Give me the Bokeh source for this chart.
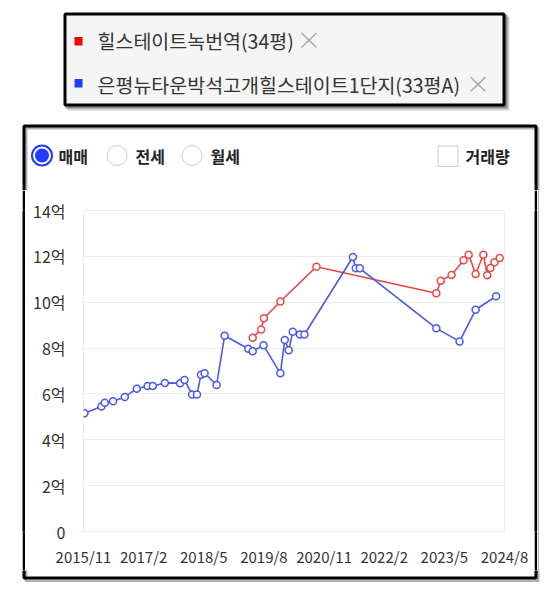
from bokeh.plotting import figure
from bokeh.models import Range1d, FixedTicker, Spacer
from bokeh.layouts import column, row
from bokeh.core.properties import value
from bokeh.embed import file_html
from bokeh.resources import INLINE

# ---------------- data ----------------
series_red_name = "힐스테이트녹번역(34평)"
series_blue_name = "은평뉴타운박석고개힐스테이트1단지(33평A)"

red_dates = ["2019-05-07", "2019-07-10", "2019-08-01", "2019-12-04", "2020-09-04",
             "2023-03-01", "2023-04-04", "2023-06-25", "2023-09-25", "2023-11-03",
             "2023-12-25", "2024-02-23", "2024-03-22", "2024-04-16", "2024-05-16",
             "2024-06-25"]
red_values = [8.45, 8.81, 9.30, 10.03, 11.55,
              10.39, 10.94, 11.19, 11.83, 12.07,
              11.23, 12.07, 11.18, 11.49, 11.74,
              11.93]

blue_dates = ["2015-11-08", "2016-03-15", "2016-04-10", "2016-06-12", "2016-09-10",
              "2016-12-10", "2017-03-01", "2017-04-10", "2017-07-10", "2017-11-04",
              "2017-12-07", "2018-02-04", "2018-03-10", "2018-04-10", "2018-05-07",
              "2018-08-07", "2018-10-07", "2019-04-04", "2019-05-07", "2019-07-28",
              "2019-12-04", "2020-01-07", "2020-02-07", "2020-03-07", "2020-05-01",
              "2020-06-04", "2021-06-07", "2021-06-28", "2021-07-28", "2023-03-01",
              "2023-08-25", "2023-12-25", "2024-05-28"]
blue_values = [5.16, 5.45, 5.62, 5.68, 5.87,
               6.23, 6.35, 6.35, 6.48, 6.47,
               6.61, 5.97, 5.97, 6.84, 6.90,
               6.39, 8.54, 7.97, 7.86, 8.12,
               6.90, 8.35, 7.91, 8.71, 8.59,
               8.59, 11.97, 11.48, 11.48, 8.86,
               8.29, 9.67, 10.26]

x_tick_labels = ["2015/11", "2017/2", "2018/5", "2019/8", "2020/11", "2022/2", "2023/5", "2024/8"]
y_tick_values = [0, 2, 4, 6, 8, 10, 12, 14]
y_tick_labels = ["0", "2억", "4억", "6억", "8억", "10억", "12억", "14억"]

radio_labels = ["매매", "전세", "월세"]
checkbox_label = "거래량"

# ---------------- helpers ----------------
BASE_Y, BASE_M = 2015, 11


def month_index(date_str):
    y, m, d = (int(v) for v in date_str.split("-"))
    return (y - BASE_Y) * 12 + (m - BASE_M) + (d - 1) / 30.0


def tick_index(label):
    y, m = (int(v) for v in label.split("/"))
    return (y - BASE_Y) * 12 + (m - BASE_M)


red_x = [month_index(d) for d in red_dates]
blue_x = [month_index(d) for d in blue_dates]
x_ticks = [tick_index(t) for t in x_tick_labels]

FONT = "Noto Sans CJK KR"
RED = "#e84848"
BLUE = "#4a5ae6"
RB = "#1f3cff"
SHADOW = "#b3b3b3"

PAGE_W, PAGE_H = 550, 582
TOP_H = 190          # page y where the chart row starts
MID_BOTTOM = 570     # page y where the chart row ends
BOX_L, BOX_R = 22, 537   # outer x of the main panel frame
EDGE = 3
CHART_L = BOX_L + EDGE
CHART_R = BOX_R - EDGE
ROW_H = MID_BOTTOM - TOP_H

# ---------------- chart ----------------
p = figure(width=CHART_R - CHART_L, height=ROW_H,
           x_range=Range1d(x_ticks[0], x_ticks[-1]),
           y_range=Range1d(y_tick_values[0], y_tick_values[-1]),
           toolbar_location=None, output_backend="svg",
           min_border_left=83 - CHART_L, min_border_right=CHART_R - 504,
           min_border_top=210 - TOP_H, min_border_bottom=MID_BOTTOM - 531)
p.outline_line_color = "#ececec"
p.background_fill_color = "white"
p.border_fill_color = "white"
p.xgrid.grid_line_color = None
p.ygrid.grid_line_color = "#ececec"

p.xaxis.ticker = FixedTicker(ticks=x_ticks)
p.xaxis.major_label_overrides = {t: l for t, l in zip(x_ticks, x_tick_labels)}
p.yaxis.ticker = FixedTicker(ticks=y_tick_values)
p.yaxis.major_label_overrides = {t: l for t, l in zip(y_tick_values, y_tick_labels)}
for ax in (p.xaxis, p.yaxis):
    ax.axis_line_color = None
    ax.major_tick_line_color = None
    ax.minor_tick_line_color = None
    ax.major_tick_out = 0
    ax.major_tick_in = 0
    ax.major_label_text_font = FONT
    ax.major_label_text_color = "#333333"
p.xaxis.major_label_text_font_size = "15px"
p.yaxis.major_label_text_font_size = "16px"
p.xaxis.major_label_standoff = 14
p.yaxis.major_label_standoff = 18

p.line(red_x, red_values, line_color=RED, line_width=1.6)
p.scatter(red_x, red_values, marker="circle", size=7, fill_color="white",
          line_color=RED, line_width=1.5)
p.line(blue_x, blue_values, line_color=BLUE, line_width=1.6)
p.scatter(blue_x, blue_values, marker="circle", size=7, fill_color="white",
          line_color=BLUE, line_width=1.5)


# ---------------- decorations (coordinates = page pixels) ----------------
def draw_frame(f):
    f.quad(left=[BOX_L + 3.5], right=[BOX_R + 0.5], top=[127.5], bottom=[BOX_L + 558.5 - 0],
           fill_color=None, line_color="#000000", line_alpha=0.3, line_width=3)
    f.quad(left=[BOX_L + 1.5], right=[BOX_R - 1.5], top=[125.5], bottom=[577.5],
           fill_color=None, line_color="black", line_width=3)


def draw_top(f):
    # legend panel with soft shadow
    f.quad(left=[67], right=[509], top=[16], bottom=[110], fill_color="#000000", fill_alpha=0.18, line_color=None)
    f.quad(left=[65], right=[507], top=[14], bottom=[108], fill_color="#000000", fill_alpha=0.35, line_color=None)
    f.quad(left=[64.5], right=[503.5], top=[13.5], bottom=[104.5], fill_color="#f5f5f5",
           line_color="black", line_width=3)
    f.quad(left=[74, 74], right=[82, 82], top=[36.5, 78.5], bottom=[45, 87],
           fill_color=["#ff0000", "#1f3cff"], line_color=None)
    f.text(x=[97, 97], y=[40, 84], text=[series_red_name, series_blue_name],
           text_font=value(FONT), text_font_size=value("19.5px"), text_color="#333333",
           text_baseline="middle", text_align="left")
    f.segment(x0=[301, 301, 470, 470], y0=[32.5, 47, 76.5, 91],
              x1=[316, 316, 485, 485], y1=[47, 32.5, 91, 76.5],
              line_color="#a8a8a8", line_width=1.5)

    draw_frame(f)

    # radio buttons
    f.scatter(x=[41.5], y=[155], marker="circle", size=20, fill_color="white",
              line_color=RB, line_width=2)
    f.scatter(x=[41.5], y=[155], marker="circle", size=14, fill_color=RB, line_color=None)
    f.scatter(x=[116.5, 191.5], y=[155, 155], marker="circle", size=20, fill_color="white",
              line_color="#cccccc", line_width=1)
    f.text(x=[58, 135, 210], y=[155.5, 155.5, 155.5], text=radio_labels,
           text_font=value(FONT), text_font_size=value("16px"), text_font_style="bold",
           text_color="#222222", text_baseline="middle", text_align="left")

    # checkbox
    f.quad(left=[437.5], right=[457.5], top=[145.5], bottom=[166], fill_color="white",
           line_color="#cccccc", line_width=1)
    f.text(x=[465], y=[155.5], text=[checkbox_label],
           text_font=value(FONT), text_font_size=value("16px"), text_font_style="bold",
           text_color="#222222", text_baseline="middle", text_align="left")


def bare_fig(w, h, x_range, y_range, color="white"):
    f = figure(width=w, height=h, x_range=x_range, y_range=y_range,
               toolbar_location=None, output_backend="svg", x_axis_type=None, y_axis_type=None,
               min_border=0, min_border_left=0, min_border_right=0,
               min_border_top=0, min_border_bottom=0)
    f.outline_line_color = None
    f.background_fill_color = color
    f.border_fill_color = color
    return f


top = bare_fig(PAGE_W, TOP_H, Range1d(0, PAGE_W), Range1d(TOP_H, 0))
draw_top(top)
bottom = bare_fig(PAGE_W, PAGE_H - MID_BOTTOM, Range1d(0, PAGE_W), Range1d(PAGE_H, MID_BOTTOM))
draw_frame(bottom)

left_edge = bare_fig(EDGE, ROW_H, Range1d(0, 1), Range1d(0, 1), "black")
right_edge = bare_fig(EDGE, ROW_H, Range1d(0, 1), Range1d(0, 1), "black")
right_shadow = bare_fig(2, ROW_H, Range1d(0, 1), Range1d(0, 1), SHADOW)

layout = column(
    top,
    row(Spacer(width=BOX_L, height=ROW_H), left_edge, p, right_edge, right_shadow,
        Spacer(width=PAGE_W - BOX_R - 2, height=ROW_H), spacing=0),
    bottom,
    spacing=0)

open("out.html", "w").write(file_html(layout, INLINE))
